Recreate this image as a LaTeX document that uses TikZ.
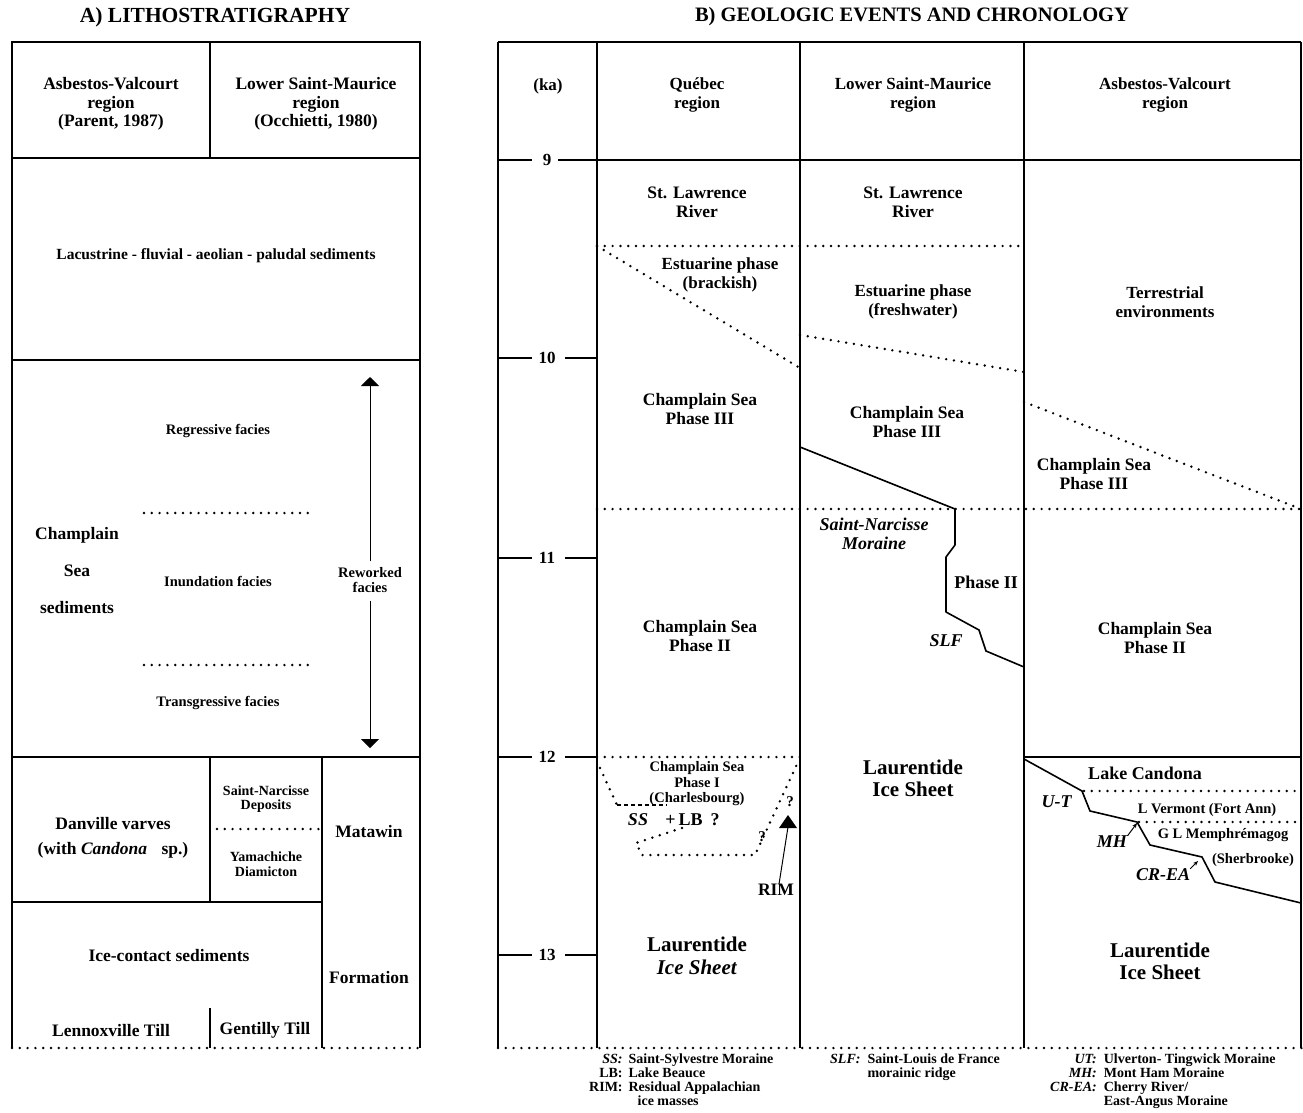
\documentclass[tikz,border=0pt]{standalone}
\usepackage{fontspec}
\setmainfont{Liberation Serif}
\usetikzlibrary{arrows.meta}
\begin{document}
\begin{tikzpicture}[x=1pt,y=-1pt,
  frame/.style={line width=1.5pt},
  dotline/.style={line width=2.7pt,line cap=round,dash pattern=on 0pt off 7.8pt},
  bt/.style 2 args={align=center,inner sep=0pt,font=\fontsize{#1}{#2}\selectfont\bfseries},
  rt/.style 2 args={align=center,inner sep=0pt,font=\fontsize{#1}{#2}\selectfont\bfseries},
  legend/.style={inner sep=0pt,anchor=north west,font=\fontsize{14}{14}\selectfont\bfseries},
  thin/.style={line width=1pt}]
\useasboundingbox[fill=white] (0,0) rectangle (1303,1112);

% ================= A) LITHOSTRATIGRAPHY =================
\node[bt={21.5}{24}] (tA) at (215,17) {A) LITHOSTRATIGRAPHY};
\draw[frame] (12,1048) -- (12,42) -- (420,42) -- (420,1048);
\draw[frame] (12,158) -- (420,158);
\draw[frame] (210,42) -- (210,158);
\draw[frame] (12,360) -- (420,360);
\draw[frame] (12,757) -- (420,757);
\draw[frame] (210,757) -- (210,902);
\draw[frame] (12,902) -- (322,902);
\draw[frame] (322,757) -- (322,1048);
\draw[frame] (210,1008) -- (210,1048);
\draw[dotline] (12,1048) -- (420,1048);

\node[bt={17.5}{18.5}] (hAV) at (111,104) {Asbestos-Valcourt\\region\\(Parent, 1987)};
\node[bt={17.5}{18.5}] (hLSM) at (316,104) {Lower Saint-Maurice\\region\\(Occhietti, 1980)};
\node[bt={15.5}{18}] (lac) at (216,256) {Lacustrine - fluvial - aeolian - paludal sediments};

\node[bt={17.5}{37}] (csea) at (77,571) {Champlain\\Sea\\sediments};
\node[bt={14.5}{16}] (reg) at (218,431) {Regressive facies};
\node[bt={14.5}{16}] (inu) at (218,581) {Inundation facies};
\node[bt={14.5}{16}] (tra) at (218,703) {Transgressive facies};
\draw[dotline] (144,513) -- (308,513);
\draw[dotline] (144,665) -- (308,665);
\node[bt={14.5}{15}] (rw) at (370,580) {Reworked\\facies};
\draw[thin,-{Triangle[width=18pt,length=9pt]}] ([yshift=6pt]rw.north) -- (370,377);
\draw[thin,-{Triangle[width=18pt,length=9pt]}] ([yshift=-8pt]rw.south) -- (370,748);

\node[bt={17.5}{25}] (dan) at (113,838) {Danville varves\\(with \textit{Candona}\hspace{10pt} sp.)};
\node[bt={14}{14.5}] (snd) at (266,799) {Saint-Narcisse\\Deposits};
\draw[dotline] (217,829) -- (322,829);
\node[bt={14}{14.5}] (yam) at (266,864) {Yamachiche\\Diamicton};
\node[bt={17.5}{20}] (mat) at (369,831) {Matawin};
\node[bt={17.5}{20}] (form) at (369,977) {Formation};
\node[bt={17.5}{20}] (ice) at (169,955) {Ice-contact sediments};
\node[bt={17.5}{20}] (len) at (111,1030) {Lennoxville Till};
\node[bt={17.5}{20}] (gen) at (265,1030) {Gentilly Till};

% ================= B) GEOLOGIC EVENTS =================
\node[rt={20.5}{24}] (tB) at (912,17) {B) GEOLOGIC EVENTS AND CHRONOLOGY};
\draw[frame] (498,42) -- (1301,42);
\foreach \xx in {498,597,800,1024,1301} \draw[frame] (\xx,42) -- (\xx,1048);
\draw[dotline] (498,1048) -- (1303,1048);

\node[rt={17}{19}] (hka) at (548,86) {(ka)};
\node[rt={17}{19}] (hQ) at (697,95) {Québec\\region};
\node[rt={17}{19}] (hL) at (913,95) {Lower Saint-Maurice\\region};
\node[rt={17}{19}] (hA) at (1165,95) {Asbestos-Valcourt\\region};

% time axis
\node[bt={17}{18}] (k9) at (547,160) {9};
\node[bt={17}{18}] (k10) at (547,358) {10};
\node[bt={17}{18}] (k11) at (547,558) {11};
\node[bt={17}{18}] (k12) at (547,757) {12};
\node[bt={17}{18}] (k13) at (547,955) {13};
\draw[frame] (498,160) -- (532,160);
\draw[frame] (558,160) -- (1301,160);
\foreach \yy in {358,558,757,955} {
  \draw[frame] (498,\yy) -- (532,\yy);
  \draw[frame] (565,\yy) -- (597,\yy);
}

% Quebec column
\node[rt={17.5}{19}] (qsl) at (697,202) {St. Lawrence\\River};
\draw[dotline] (597,246) -- (1024,246);
\draw[dotline] (597,246) -- (800,368);
\node[rt={17}{18.5}] (qest) at (720,275) {Estuarine phase\\(brackish)};
\node[bt={17.5}{18.5}] (q3) at (700,409) {Champlain Sea\\Phase III};
\draw[dotline] (597,509) -- (1301,509);
\node[bt={17.5}{18.5}] (q2) at (700,636) {Champlain Sea\\Phase II};
\draw[dotline] (597,757) -- (800,757);
\node[bt={14.5}{15.5}] (q1) at (697,784) {Champlain Sea\\Phase I\\(Charlesbourg)};
\draw[dotline] (600,768) -- (617,805);
\draw[line width=1.6pt,dash pattern=on 4pt off 3pt] (617,805) -- (667,805);
\draw[dotline] (682,828) -- (636,843) -- (642,855) -- (755,855) -- (798,762);
\node[bt={18}{20}] (ss) at (638,820) {\textit{SS}};
\node[bt={18}{20}] (lb) at (684,820) {+\,LB};
\node[bt={18}{20}] (qm1) at (715,820) {?};
\node[bt={15}{16}] (qm2) at (762,837) {?};
\node[bt={15}{16}] (qm3) at (790,802) {?};
\fill (779,828) -- (797,828) -- (788,815) -- cycle;
\coordinate (tri) at (788,827);
\node[bt={17.5}{19}] (rim) at (776,890) {RIM};
\draw[thin] ([xshift=3pt]rim.north) -- (tri);
\node[bt={21}{23}] (qli) at (697,956) {Laurentide\\\textit{Ice Sheet}};

% Lower Saint-Maurice column
\node[rt={17.5}{19}] (lsl) at (913,202) {St. Lawrence\\River};
\node[rt={17}{18.5}] (lest) at (913,302) {Estuarine phase\\(freshwater)};
\draw[dotline] (800,335) -- (1024,372);
\node[bt={17.5}{18.5}] (l3) at (907,422) {Champlain Sea\\Phase III};
\draw[line width=1.6pt,line join=round] (800,447) -- (955,509) -- (955,545) -- (946,557) -- (946,612) -- (979,630) -- (986,651) -- (1024,667);
\node[bt={18}{18.5}] (snm) at (874,534) {\textit{Saint-Narcisse}\\\textit{Moraine}};
\node[bt={18}{19}] (l2) at (986,582) {Phase II};
\node[bt={18}{19}] (slf) at (946,641) {\textit{SLF}};
\node[bt={21}{22}] (lli) at (913,778) {Laurentide\\Ice Sheet};

% Asbestos-Valcourt column
\node[rt={17}{18.5}] (ater) at (1165,302) {Terrestrial\\environments};
\draw[dotline] (1024,402) -- (1301,509);
\node[bt={17.5}{18.5}] (a3) at (1094,474) {Champlain Sea\\Phase III};
\node[bt={17.5}{18.5}] (a2) at (1155,638) {Champlain Sea\\Phase II};
\draw[frame] (1024,757) -- (1301,757);
\node[bt={18}{19}] (alc) at (1145,773) {Lake Candona};
\draw[dotline] (1084,791) -- (1301,791);
\draw[dotline] (1139,822) -- (1301,822);
\draw[line width=1.6pt,line join=round] (1024,759) -- (1082,791) -- (1090,811) -- (1137,822) -- (1150,845) -- (1202,857) -- (1215,882) -- (1301,903);
\node[bt={18}{19}] (aut) at (1057,802) {\textit{U-T}};
\node[bt={14.5}{15}] (avt) at (1207,810) {L Vermont (Fort Ann)};
\node[bt={14.5}{15}] (agl) at (1223,835) {G L Memphrémagog};
\node[bt={14.5}{15}] (ash) at (1253,860) {(Sherbrooke)};
\node[bt={18}{19}] (amh) at (1112,842) {\textit{MH}};
\node[bt={18}{19}] (acr) at (1163,875) {\textit{CR-EA}};
\coordinate (mhtip) at (1137,823);
\coordinate (crtip) at (1198,861);
\draw[thin,-{Stealth[length=5pt,width=4pt]}] (amh.north east) -- (mhtip);
\draw[thin,-{Stealth[length=5pt,width=4pt]}] (acr.north east) -- (crtip);
\node[bt={21}{22}] (ali) at (1160,961) {Laurentide\\Ice Sheet};

% legends
\node[legend] (leg1) at (589,1053) {\begin{tabular}{@{}r@{\hspace{6pt}}l@{}}\textit{SS:} & Saint-Sylvestre Moraine\\ LB: & Lake Beauce\\ RIM: & Residual Appalachian\\ & \hspace{9pt}ice masses\end{tabular}};
\node[legend] (leg2) at (830,1053) {\begin{tabular}{@{}r@{\hspace{7pt}}l@{}}\textit{SLF:} & Saint-Louis de France\\ & morainic ridge\end{tabular}};
\node[legend] (leg3) at (1050,1053) {\begin{tabular}{@{}r@{\hspace{7pt}}l@{}}\textit{UT:} & Ulverton- Tingwick Moraine\\ \textit{MH:} & Mont Ham Moraine\\ \textit{CR-EA:} & Cherry River/\\ & East-Angus Moraine\end{tabular}};
\end{tikzpicture}
\end{document}
